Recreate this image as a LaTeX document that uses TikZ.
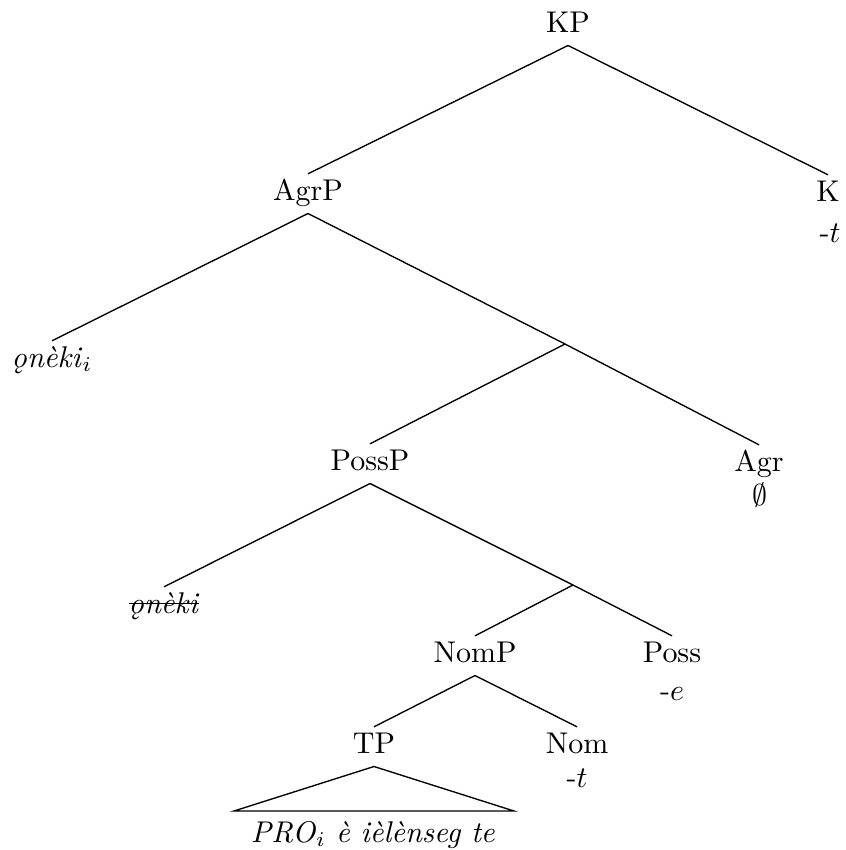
\documentclass[tikz,border=0pt]{standalone}
\newcommand{\mystrike}[1]{\setbox0\hbox{#1}\rlap{\rule[2.9pt]{\wd0}{0.4pt}}\box0}
\begin{document}
\begin{tikzpicture}[x=0.33333pt,y=-0.33333pt,
  lbl/.style={anchor=base,inner xsep=0pt,inner ysep=1.7pt,text height=6.83pt,text depth=2.6pt},
  sub/.style={anchor=base,inner sep=0pt},
  edge/.style={line width=0.45pt}]
\useasboundingbox (0,0) rectangle (846,850);
\node[lbl] (KP) at (568,32) {KP};
\node[lbl] (AgrP) at (308,200) {AgrP};
\node[lbl] (K) at (828,201) {K};
\node[sub] (Kt) at (830,242) {-$t$};
\node[lbl] (Spec1) at (52,367) {\textit{\k{o}nèki}$_i$};
\coordinate (Agrbar) at (565,344);
\node[lbl] (PossP) at (370,470) {PossP};
\node[lbl] (Agr) at (759,471) {Agr};
\node[sub] (AgrE) at (760,505) {$\emptyset$};
\node[lbl] (Spec2) at (164,613) {\mystrike{\textit{\k{o}nèki}}};
\coordinate (Possbar) at (573,585);
\node[lbl] (NomP) at (475,662) {NomP};
\node[lbl] (Poss) at (672,662) {Poss};
\node[sub] (Posse) at (672,700) {-$e$};
\node[lbl] (TP) at (374,753) {TP};
\node[lbl] (Nom) at (577,753) {Nom};
\node[sub] (Nomt) at (577,787) {-$t$};
\node[sub] (Tri) at (373,842) {\textit{PRO}$_i$ \textit{è ièlènseg te}};
\coordinate (TriL) at (234,811);
\coordinate (TriR) at (514,811);
\draw[edge] (KP.south) -- (AgrP.north);
\draw[edge] (KP.south) -- (K.north);
\draw[edge] (AgrP.south) -- (Spec1.north);
\draw[edge] (AgrP.south) -- (Agrbar);
\draw[edge] (Agrbar) -- (PossP.north);
\draw[edge] (Agrbar) -- (Agr.north);
\draw[edge] (PossP.south) -- (Spec2.north);
\draw[edge] (PossP.south) -- (Possbar);
\draw[edge] (Possbar) -- (NomP.north);
\draw[edge] (Possbar) -- (Poss.north);
\draw[edge] (NomP.south) -- (TP.north);
\draw[edge] (NomP.south) -- (Nom.north);
\draw[edge] (TP.south) -- (TriL) -- (TriR) -- cycle;
\end{tikzpicture}
\end{document}
